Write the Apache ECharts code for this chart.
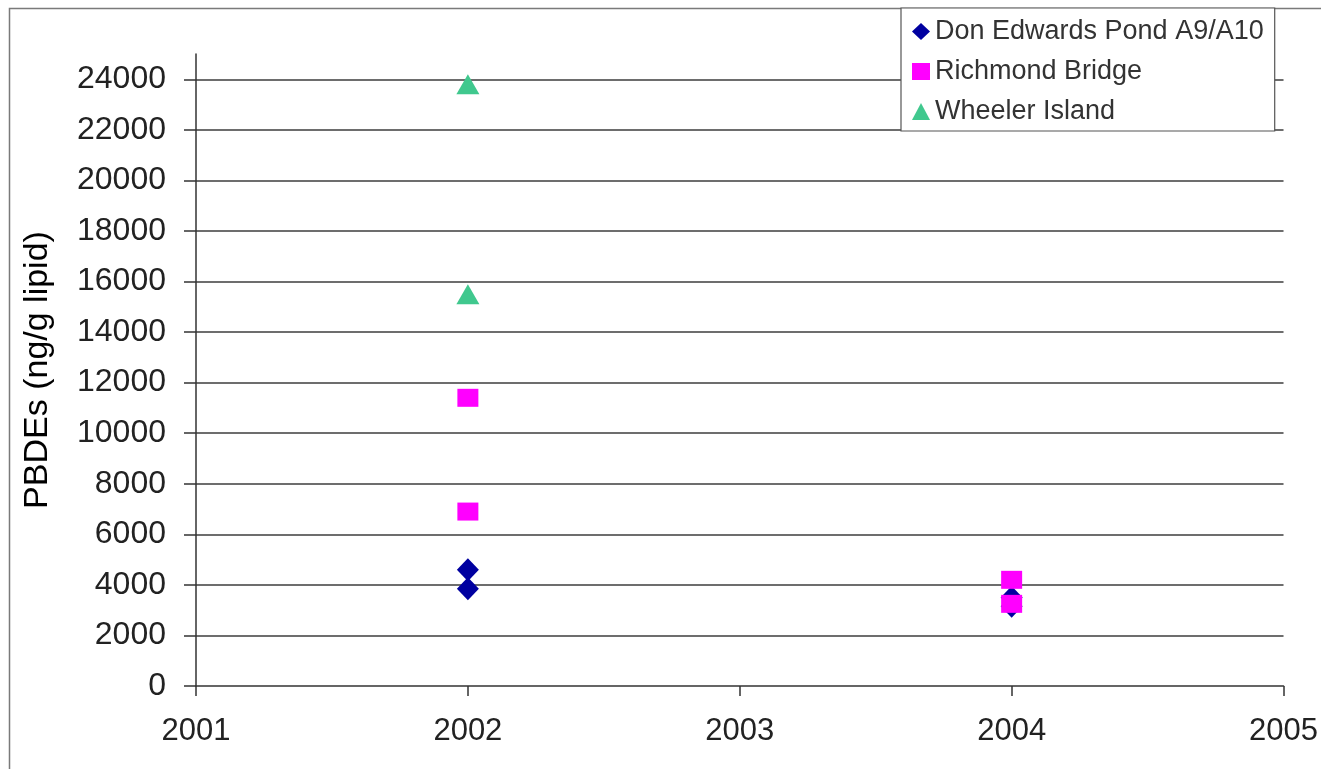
<!DOCTYPE html>
<html>
<head>
<meta charset="utf-8">
<script src="https://cdn.jsdelivr.net/npm/echarts@6/dist/echarts.min.js"></script>
<style>
  html, body { margin: 0; padding: 0; background: #fff; }
  #chart { width: 1321px; height: 769px; }
</style>
</head>
<body>
<div id="chart"></div>
<script>
// PBDE concentrations in bird eggs by site and sampling year
const donYears = [2002, 2002, 2004, 2004];
const donValues = [4600, 3850, 3500, 3150];

const richmondYears = [2002, 2002, 2004, 2004];
const richmondValues = [11400, 6900, 4200, 3250];

const wheelerYears = [2002, 2002];
const wheelerValues = [23800, 15500];

const seriesNames = ['Don Edwards Pond A9/A10', 'Richmond Bridge', 'Wheeler Island'];
const yTickValues = [0, 2000, 4000, 6000, 8000, 10000, 12000, 14000, 16000, 18000, 20000, 22000, 24000];
const xTickValues = [2001, 2002, 2003, 2004, 2005];

const pairs = (xs, ys) => xs.map((x, i) => [x, ys[i]]);

const FONT = '"Liberation Sans", Arial, sans-serif';

const chart = echarts.init(document.getElementById('chart'), null, { renderer: 'canvas' });

chart.setOption({
  backgroundColor: '#ffffff',
  animation: false,
  grid: { left: 196, right: 37, top: 54, bottom: 83, containLabel: false },
  graphic: [
    {
      type: 'polyline',
      silent: true,
      shape: { points: [[9.5, 769], [9.5, 8.5], [1321, 8.5]] },
      style: { stroke: '#7a7a7a', lineWidth: 1.5, fill: null }
    }
  ],
  legend: {
    orient: 'vertical',
    left: 901,
    top: 8,
    data: seriesNames,
    backgroundColor: '#ffffff',
    borderColor: '#555555',
    borderWidth: 1.2,
    padding: [10, 11, 6, 11],
    itemGap: 13,
    itemWidth: 18,
    itemHeight: 17,
    textStyle: { fontFamily: FONT, fontSize: 27, color: '#333333' }
  },
  xAxis: {
    type: 'value',
    min: 2001,
    max: 2005,
    interval: 1,
    axisLine: { show: true, lineStyle: { color: '#333333', width: 1.5 } },
    axisTick: { show: true, length: 10, lineStyle: { color: '#333333', width: 1.5 } },
    axisLabel: {
      fontFamily: FONT, fontSize: 31, color: '#222222', margin: 30,
      customValues: xTickValues,
      formatter: v => String(v)
    },
    splitLine: { show: false }
  },
  yAxis: {
    type: 'value',
    min: 0,
    max: 25000,
    interval: 2000,
    name: 'PBDEs (ng/g lipid)',
    nameLocation: 'middle',
    nameRotate: 90,
    nameGap: 141,
    nameTextStyle: { fontFamily: FONT, fontSize: 34, color: '#000000' },
    axisLine: { show: true, lineStyle: { color: '#333333', width: 1.5 } },
    axisTick: { show: true, inside: false, length: 12, customValues: yTickValues, lineStyle: { color: '#333333', width: 1.5 } },
    axisLabel: {
      fontFamily: FONT, fontSize: 32, color: '#222222', margin: 30,
      customValues: yTickValues,
      formatter: v => String(v)
    },
    splitLine: {
      show: true,
      showMinLine: false,
      showMaxLine: true,
      lineStyle: { color: '#3c3c3c', width: 1.5 }
    }
  },
  series: [
    {
      name: seriesNames[0],
      type: 'scatter',
      symbol: 'diamond',
      symbolSize: [22, 23],
      itemStyle: { color: '#0000a0', opacity: 1 },
      data: pairs(donYears, donValues)
    },
    {
      name: seriesNames[1],
      type: 'scatter',
      symbol: 'rect',
      symbolSize: [21, 18],
      itemStyle: { color: '#ff00ff', opacity: 1 },
      data: pairs(richmondYears, richmondValues)
    },
    {
      name: seriesNames[2],
      type: 'scatter',
      symbol: 'triangle',
      symbolSize: [23, 20],
      itemStyle: { color: '#40c88e', opacity: 1 },
      data: pairs(wheelerYears, wheelerValues)
    }
  ]
});
</script>
</body>
</html>
